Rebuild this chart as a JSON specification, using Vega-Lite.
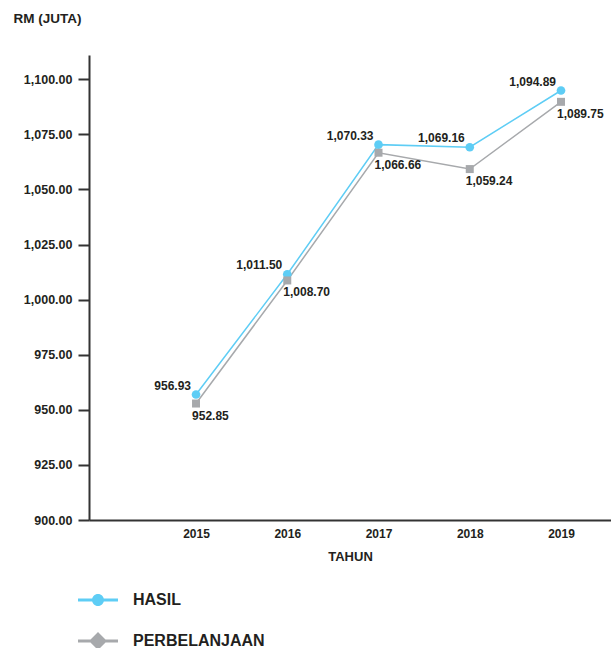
{
  "$schema": "https://vega.github.io/schema/vega-lite/v6.json",
  "autosize": {"type": "none"},
  "padding": {"left": 89, "top": 55, "right": 0, "bottom": 128},
  "width": 522,
  "height": 465,
  "background": "white",
  "config": {
    "font": "Liberation Sans",
    "view": {"stroke": null}
  },
  "data": {
    "values": [
      {"year": 2015, "series": "HASIL", "value": 956.93},
      {"year": 2016, "series": "HASIL", "value": 1011.50},
      {"year": 2017, "series": "HASIL", "value": 1070.33},
      {"year": 2018, "series": "HASIL", "value": 1069.16},
      {"year": 2019, "series": "HASIL", "value": 1094.89},
      {"year": 2015, "series": "PERBELANJAAN", "value": 952.85},
      {"year": 2016, "series": "PERBELANJAAN", "value": 1008.70},
      {"year": 2017, "series": "PERBELANJAAN", "value": 1066.66},
      {"year": 2018, "series": "PERBELANJAAN", "value": 1059.24},
      {"year": 2019, "series": "PERBELANJAAN", "value": 1089.75}
    ]
  },
  "encoding": {
    "x": {
      "field": "year", "type": "quantitative",
      "scale": {"domain": [2013.827, 2019.548], "nice": false, "zero": false},
      "axis": {
        "values": [2015, 2016, 2017, 2018, 2019],
        "format": "d",
        "title": "TAHUN",
        "grid": false,
        "ticks": false,
        "domainColor": "#333333",
        "domainWidth": 2,
        "labelFont": "Liberation Sans",
        "labelFontSize": 12,
        "labelFontWeight": "bold",
        "labelColor": "#231f20",
        "labelPadding": 8,
        "titleFont": "Liberation Sans",
        "titleFontSize": 13,
        "titleFontWeight": "bold",
        "titleColor": "#231f20",
        "titlePadding": 11
      }
    },
    "y": {
      "field": "value", "type": "quantitative",
      "scale": {"domain": [900, 1111], "nice": false, "zero": false},
      "axis": {
        "values": [900, 925, 950, 975, 1000, 1025, 1050, 1075, 1100],
        "format": ",.2f",
        "title": "RM (JUTA)",
        "grid": false,
        "domainColor": "#333333",
        "domainWidth": 2,
        "tickColor": "#333333",
        "tickWidth": 2,
        "tickSize": 11,
        "labelFont": "Liberation Sans",
        "labelFontSize": 12.5,
        "labelFontWeight": "bold",
        "labelColor": "#231f20",
        "labelPadding": 6,
        "titleFont": "Liberation Sans",
        "titleFontSize": 13.5,
        "titleFontWeight": "bold",
        "titleColor": "#231f20",
        "titleAngle": 0,
        "titleAlign": "left",
        "titleBaseline": "middle",
        "titleX": -76,
        "titleY": -37
      }
    }
  },
  "layer": [
    {
      "mark": {"type": "line", "strokeWidth": 1.5},
      "encoding": {
        "color": {
          "field": "series", "type": "nominal",
          "scale": {"domain": ["HASIL", "PERBELANJAAN"], "range": ["#5ECDF5", "#A7A9AC"]},
          "legend": {
            "orient": "none",
            "legendX": -11,
            "legendY": 525,
            "title": null,
            "direction": "vertical",
            "rowPadding": 13,
            "symbolSize": 1600,
            "symbolStrokeWidth": 0,
            "labelOffset": 15,
            "labelFont": "Liberation Sans",
            "labelFontSize": 16,
            "labelFontWeight": "bold",
            "labelColor": "#231f20",
            "encode": {
              "symbols": {
                "update": {
                  "shape": {"signal": "datum.value === 'HASIL' ? 'M-1,-0.075 H1 V0.075 H-1 Z M0.3,0 A0.3,0.3 0 1,1 -0.3,0 A0.3,0.3 0 1,1 0.3,0 Z' : 'M-1,-0.075 H1 V0.075 H-1 Z M0,-0.45 L0.45,0 L0,0.45 L-0.45,0 Z'"},
                  "fill": {"signal": "datum.value === 'HASIL' ? '#5ECDF5' : '#A7A9AC'"},
                  "fillOpacity": {"value": 1},
                  "opacity": {"value": 1},
                  "strokeWidth": {"value": 0}
                }
              }
            }
          }
        }
      }
    },
    {
      "transform": [{"filter": "datum.series === 'HASIL'"}],
      "mark": {"type": "point", "shape": "circle", "filled": true, "opacity": 1, "size": 75},
      "encoding": {
        "color": {"field": "series", "type": "nominal", "legend": null}
      }
    },
    {
      "transform": [{"filter": "datum.series === 'PERBELANJAAN'"}],
      "mark": {"type": "point", "shape": "square", "filled": true, "opacity": 1, "size": 64},
      "encoding": {
        "color": {"field": "series", "type": "nominal", "legend": null}
      }
    },
    {
      "transform": [{"filter": "datum.series === 'HASIL'"}],
      "mark": {"type": "text", "align": "right", "baseline": "bottom", "dx": -5, "dy": -2, "font": "Liberation Sans", "fontSize": 12, "fontWeight": "bold", "color": "#231f20"},
      "encoding": {
        "text": {"field": "value", "type": "quantitative", "format": ",.2f"}
      }
    },
    {
      "transform": [{"filter": "datum.series === 'PERBELANJAAN'"}],
      "mark": {"type": "text", "align": "left", "baseline": "top", "dx": -4, "dy": 7, "font": "Liberation Sans", "fontSize": 12, "fontWeight": "bold", "color": "#231f20"},
      "encoding": {
        "text": {"field": "value", "type": "quantitative", "format": ",.2f"}
      }
    }
  ]
}
